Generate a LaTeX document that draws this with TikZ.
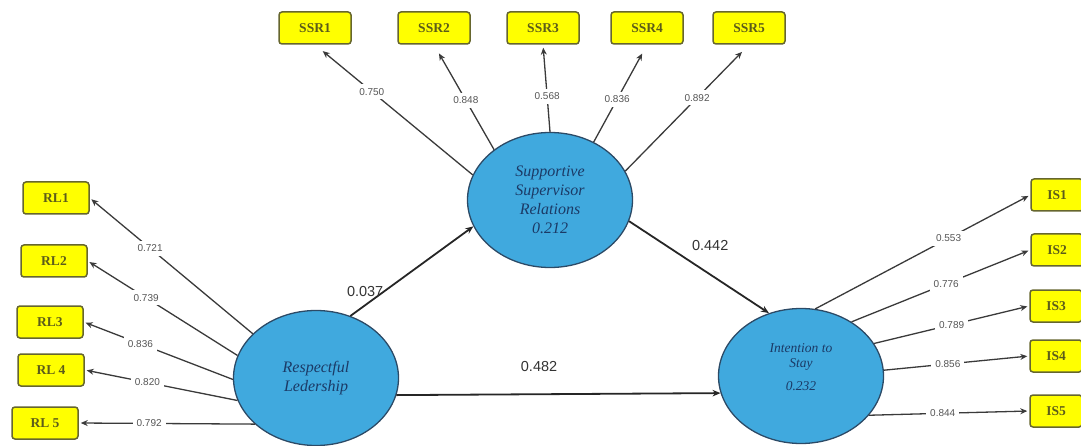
\documentclass[tikz,border=0pt]{standalone}
\usepackage{fontspec}
\setmainfont{Liberation Serif}
\setsansfont{Liberation Sans}
\usetikzlibrary{arrows.meta,shapes.geometric}

\definecolor{lvfill}{HTML}{40A9DE}
\definecolor{lvdraw}{HTML}{2C4A66}
\definecolor{lvtext}{HTML}{1B3A66}
\definecolor{itfill}{HTML}{FFFF00}
\definecolor{itdraw}{HTML}{66662E}
\definecolor{ittext}{HTML}{5C5C1A}
\definecolor{ldline}{HTML}{3A3A3A}
\definecolor{ldtext}{HTML}{555555}

\begin{document}
\begin{tikzpicture}[x=1pt,y=-1pt,
    latent/.style={ellipse, draw=lvdraw, line width=1.3pt, fill=lvfill,
        minimum width=165pt, minimum height=135pt, inner sep=0pt,
        align=center, text=lvtext},
    indicator/.style={rectangle, rounded corners=3pt, draw=itdraw, line width=1.5pt,
        fill=itfill, minimum width=72pt, minimum height=32pt, inner sep=0pt,
        text=ittext, font=\bfseries\fontsize{13.5}{15}\selectfont},
    loading/.style={draw=ldline, line width=1.3pt, -{Stealth[length=7pt,width=6pt]}, shorten >=2pt},
    loadval/.style={fill=white, inner sep=4pt, text=ldtext, font=\sffamily\fontsize{10}{11}\selectfont},
    coefarrow/.style={draw=black!85, line width=1.8pt, -{Stealth[length=8pt,width=6.5pt]}},
    coefval/.style={text=black!80, font=\sffamily\fontsize{14.5}{16}\selectfont}]

    \useasboundingbox (0,0) rectangle (1081,446);

    % latent variables
    \node[latent, font=\itshape\fontsize{16}{19}\selectfont] (SSR) at (550,200)
        {Supportive\\Supervisor\\Relations\\0.212};
    \node[latent, font=\itshape\fontsize{16}{19}\selectfont] (RL) at (316,378)
        {Respectful\\Ledership};
    \node[latent, font=\itshape\fontsize{13.5}{15}\selectfont] (IS) at (801,376)
        {Intention to\\Stay\\[8pt]0.232\\[2pt]\mbox{}};

    % indicators
    \node[indicator] (SSR1) at (315,28) {SSR1};
    \node[indicator] (SSR2) at (434,28) {SSR2};
    \node[indicator] (SSR3) at (543,28) {SSR3};
    \node[indicator] (SSR4) at (647,28) {SSR4};
    \node[indicator] (SSR5) at (749,28) {SSR5};

    \node[indicator, minimum width=66pt] (RL1) at (56,198) {RL1};
    \node[indicator, minimum width=66pt] (RL2) at (54,261) {RL2};
    \node[indicator, minimum width=66pt] (RL3) at (50,322) {RL3};
    \node[indicator, minimum width=66pt] (RL4) at (51,370) {RL 4};
    \node[indicator, minimum width=66pt] (RL5) at (45,423) {RL 5};

    \node[indicator, minimum width=52pt] (IS1) at (1057,195) {IS1};
    \node[indicator, minimum width=52pt] (IS2) at (1057,250) {IS2};
    \node[indicator, minimum width=52pt] (IS3) at (1056,306) {IS3};
    \node[indicator, minimum width=52pt] (IS4) at (1056,356) {IS4};
    \node[indicator, minimum width=52pt] (IS5) at (1056,411) {IS5};

    % outer loadings SSR
    \draw[loading, shorten >=10pt] (SSR.162) -- node[loadval, pos=0.64] {0.750} (SSR1.south);
    \draw[loading, shorten >=10pt] (SSR.138) -- node[loadval, pos=0.47] {0.848} (SSR2.south);
    \draw[loading, shorten >=3pt] (SSR.north) -- node[loadval, pos=0.41] {0.568} (SSR3.south);
    \draw[loading, shorten >=10pt] (SSR.53) -- node[loadval, pos=0.44] {0.836} (SSR4.south);
    \draw[loading, shorten >=10pt] (SSR.21) -- node[loadval, pos=0.58] {0.892} (SSR5.south);

    % outer loadings RL
    \draw[loading] (RL.145) -- node[loadval, pos=0.63] {0.721} (RL1.east);
    \draw[loading] (RL.164) -- node[loadval, pos=0.61] {0.739} (RL2.east);
    \draw[loading] (RL.181) -- node[loadval, pos=0.62] {0.836} (RL3.east);
    \draw[loading] (RL.196) -- node[loadval, pos=0.59] {0.820} (RL4.east);
    \draw[loading] (RL.217) -- node[loadval, pos=0.60] {0.792} (RL5.east);

    % outer loadings IS
    \draw[loading] (IS.78) -- node[loadval, pos=0.62] {0.553} (IS1.west);
    \draw[loading] (IS.47) -- node[loadval, pos=0.53] {0.776} (IS2.west);
    \draw[loading] (IS.24) -- node[loadval, pos=0.50] {0.789} (IS3.west);
    \draw[loading] (IS.4) -- node[loadval, pos=0.44] {0.856} (IS4.west);
    \draw[loading] (IS.330) -- node[loadval, pos=0.46] {0.844} (IS5.west);

    % path coefficients
    \draw[coefarrow] (RL.61) -- node[coefval, pos=0.12, above=4pt] {0.037} (SSR.199);
    \draw[coefarrow] (SSR.345) -- node[coefval, pos=0.58, above=20pt] {0.442} (IS.117);
    \draw[coefarrow] (RL.-12) -- node[coefval, pos=0.44, above=18pt] {0.482} (IS.192);

\end{tikzpicture}
\end{document}
